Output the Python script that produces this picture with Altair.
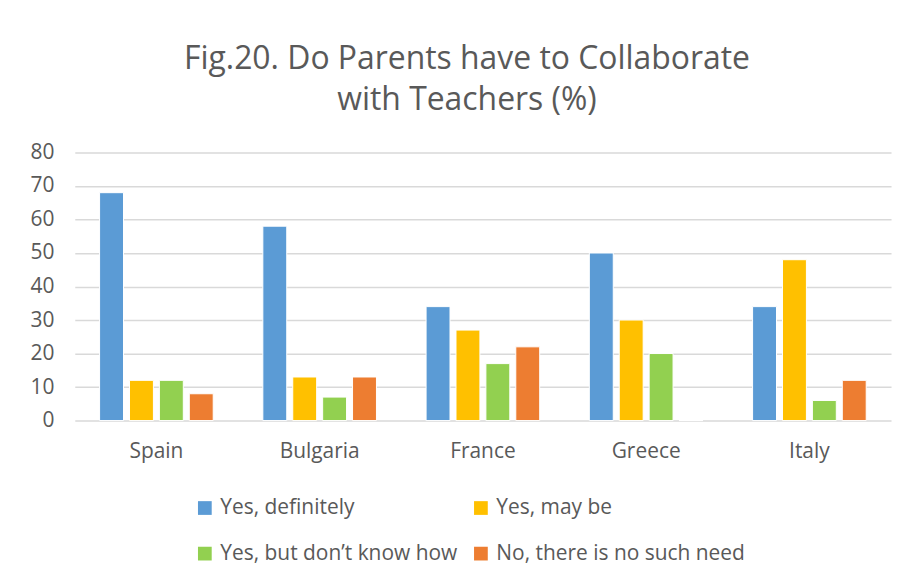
import altair as alt
import pandas as pd

countries = ["Spain", "Bulgaria", "France", "Greece", "Italy"]
series = ["Yes, definitely", "Yes, may be", "Yes, but don\u2019t know how", "No, there is no such need"]
colors = ["#5B9BD5", "#FFC000", "#92D050", "#ED7D31"]
yes_definitely = [68, 58, 34, 50, 34]
yes_may_be = [12, 13, 27, 30, 48]
yes_dont_know = [12, 7, 17, 20, 6]
no_need = [8, 13, 22, 0, 12]
y_ticks = [0, 10, 20, 30, 40, 50, 60, 70, 80]

rows = []
for vals, s in zip([yes_definitely, yes_may_be, yes_dont_know, no_need], series):
    for c, v in zip(countries, vals):
        rows.append({"Country": c, "Series": s, "Value": v})
df = pd.DataFrame(rows)

FONT = "Open Sans"
TXT = "#595959"

chart = alt.Chart(df).mark_bar(stroke="white", strokeWidth=1).encode(
    x=alt.X("Country:N", sort=countries,
            scale=alt.Scale(paddingInner=0, paddingOuter=0),
            axis=alt.Axis(title=None, labelAngle=0, domain=False, ticks=False,
                          labelPadding=20, labelFontSize=21, labelFont=FONT,
                          labelColor=TXT)),
    xOffset=alt.XOffset("Series:N", sort=series,
                        scale=alt.Scale(paddingInner=0.2, paddingOuter=0.83)),
    y=alt.Y("Value:Q", scale=alt.Scale(domain=[0, 80]),
            axis=alt.Axis(title=None, values=y_ticks, domain=False, ticks=False,
                          labelPadding=21, labelFontSize=21, labelFont=FONT,
                          labelColor=TXT, gridColor="#D9D9D9", gridWidth=1.5)),
    color=alt.Color("Series:N", sort=series,
                    scale=alt.Scale(domain=series, range=colors),
                    legend=alt.Legend(title=None, orient="none", legendX=120, legendY=346,
                                      direction="horizontal",
                                      columns=2, symbolType="square", symbolSize=190,
                                      symbolStrokeWidth=0, labelFontSize=21,
                                      labelFont=FONT, labelColor=TXT, labelOffset=5,
                                      rowPadding=24, columnPadding=12, labelLimit=400)),
).properties(
    width=819,
    height=269,
    background="white",
    padding={"left": 21, "top": 34, "right": 8, "bottom": 10},
    title=alt.TitleParams(
        text=["Fig.20. Do Parents have to Collaborate", "with Teachers (%)"],
        fontSize=32, font=FONT, color=TXT, fontWeight="normal",
        lineHeight=41, anchor="middle", dx=-16, offset=25,
    ),
).configure_view(stroke=None)

chart.save("out.html", embed_options={"renderer": "svg", "actions": False})
